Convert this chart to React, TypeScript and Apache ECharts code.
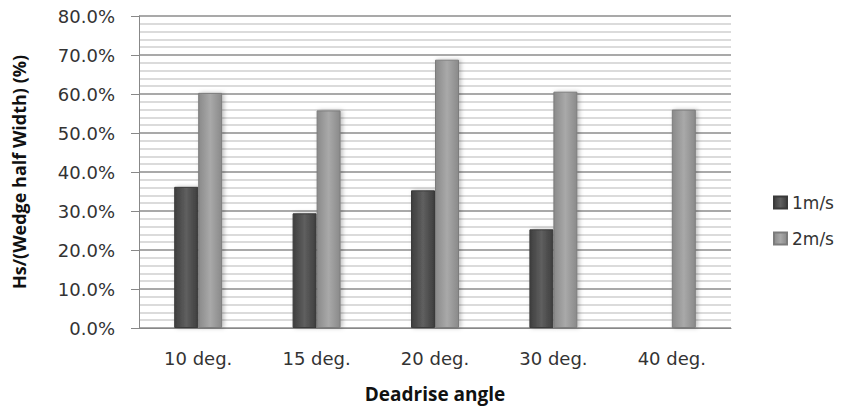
import React, { useEffect, useRef } from "react";
import * as echarts from "echarts";

const categories = ["10 deg.", "15 deg.", "20 deg.", "30 deg.", "40 deg."];
const speed1 = [0.362, 0.294, 0.353, 0.253, null];
const speed2 = [0.603, 0.558, 0.688, 0.606, 0.56];
const seriesNames = ["1m/s", "2m/s"];

const LABEL_FONT = "'DejaVu Sans', sans-serif";
const TITLE_FONT = "'Open Sans', sans-serif";

export default function App() {
  const ref = useRef<HTMLDivElement>(null);
  useEffect(() => {
    const chart = echarts.init(ref.current!, null, { renderer: "svg" });
    const grad = (a: string, b: string) =>
      new echarts.graphic.LinearGradient(0, 0, 1, 0, [
        { offset: 0, color: a },
        { offset: 0.5, color: b },
        { offset: 1, color: a },
      ]);
    chart.setOption({
      animation: false,
      backgroundColor: "#ffffff",
      grid: { left: 139, right: 114, top: 16, bottom: 86 },
      legend: {
        orient: "vertical",
        left: 768,
        top: 189,
        itemWidth: 13,
        itemHeight: 12,
        itemGap: 19,
        icon: "rect",
        data: seriesNames,
        textStyle: { fontFamily: LABEL_FONT, fontSize: 17, color: "#333" },
      },
      xAxis: {
        type: "category",
        data: categories,
        name: "Deadrise angle",
        nameLocation: "middle",
        nameGap: 56,
        nameTextStyle: { fontFamily: TITLE_FONT, fontSize: 19, fontWeight: "bold", color: "#111" },
        axisLine: { show: true, lineStyle: { color: "#888", width: 1 } },
        axisTick: { show: false },
        axisLabel: { fontFamily: LABEL_FONT, fontSize: 18, color: "#333", margin: 21 },
        splitLine: { show: false },
      },
      yAxis: {
        type: "value",
        min: 0,
        max: 0.8,
        interval: 0.1,
        name: "Hs/(Wedge half Width) (%)",
        nameLocation: "middle",
        nameGap: 111,
        nameRotate: 90,
        nameTextStyle: { fontFamily: TITLE_FONT, fontSize: 18, fontWeight: "bold", color: "#111" },
        axisLine: { show: true, lineStyle: { color: "#888", width: 1 } },
        axisTick: { show: true, length: 8, lineStyle: { color: "#888" } },
        axisLabel: {
          fontFamily: LABEL_FONT,
          fontSize: 18,
          color: "#333",
          margin: 24,
          formatter: (v: number) => (v * 100).toFixed(1) + "%",
        },
        splitLine: { show: true, lineStyle: { color: "#8c8c8c", width: 1.5 } },
        minorTick: { show: false, splitNumber: 5 },
        minorSplitLine: { show: true, lineStyle: { color: "#cfcfcf", width: 1.5 } },
      },
      series: [
        {
          name: seriesNames[0],
          type: "bar",
          data: speed1,
          barWidth: 24,
          barGap: "0%",
          itemStyle: {
            color: grad("#3e3e3e", "#5f5f5f"),
            borderColor: "#3a3a3a",
            borderWidth: 1,
            shadowColor: "rgba(0,0,0,0.25)",
            shadowBlur: 4,
            shadowOffsetX: 2,
          },
        },
        {
          name: seriesNames[1],
          type: "bar",
          data: speed2,
          barWidth: 24,
          itemStyle: {
            color: grad("#8a8a8a", "#a9a9a9"),
            borderColor: "#7c7c7c",
            borderWidth: 1,
            shadowColor: "rgba(0,0,0,0.25)",
            shadowBlur: 4,
            shadowOffsetX: 2,
          },
        },
      ],
    });
    return () => chart.dispose();
  }, []);
  return <div ref={ref} style={{ width: 845, height: 414, margin: -8 }} />;
}
